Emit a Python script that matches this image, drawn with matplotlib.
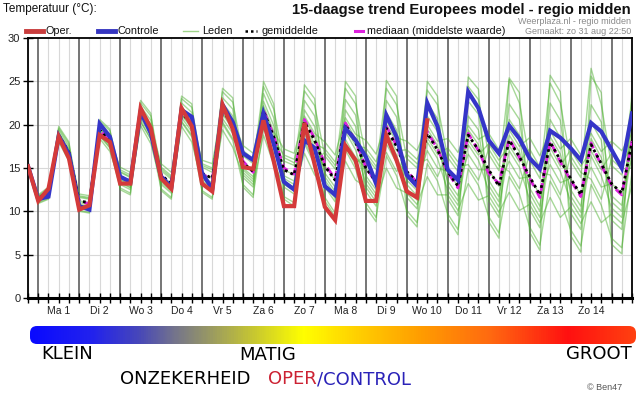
import matplotlib
matplotlib.use('Agg')
import matplotlib.pyplot as plt
from matplotlib.colors import LinearSegmentedColormap
from matplotlib.patches import FancyBboxPatch
from matplotlib.lines import Line2D
import numpy as np

# ---------------- data (6-hourly steps, start zo 31 aug 18:00) ----------------
day_labels = ["Ma 1", "Di 2", "Wo 3", "Do 4", "Vr 5", "Za 6", "Zo 7",
              "Ma 8", "Di 9", "Wo 10", "Do 11", "Vr 12", "Za 13", "Zo 14"]

oper = [15.2, 11.2, 12.6, 18.6, 16.1, 10.2, 10.7, 18.8, 18.0, 13.2,
        13.2, 21.9, 19.6, 13.8, 12.6, 21.9, 19.8, 13.2, 12.3, 22.3,
        19.5, 15.1, 14.9, 20.5, 15.8, 10.6, 10.6, 20.2, 15.4, 10.5,
        9.0, 17.6, 15.9, 11.2, 11.2, 18.8, 15.9, 12.3, 11.6, 20.5]

controle = [15.2, 11.4, 11.7, 18.7, 16.6, 10.6, 10.2, 20.1, 18.6, 14.0,
            13.4, 21.5, 19.0, 14.0, 12.8, 21.7, 20.9, 14.4, 12.6, 22.3,
            20.3, 16.7, 15.9, 21.3, 17.8, 13.4, 12.5, 18.2, 17.3, 12.9,
            11.9, 19.6, 18.2, 16.3, 13.2, 21.1, 18.6, 14.2, 12.9, 22.5,
            19.8, 14.8, 13.6, 23.8, 21.9, 18.2, 16.7, 19.9, 18.4, 16.1,
            14.9, 19.3, 18.5, 17.3, 15.9, 20.2, 19.2, 17.1, 15.0, 21.3]

gemiddelde = [15.2, 11.5, 12.2, 18.8, 16.8, 11.2, 11.0, 19.4, 18.1, 14.0,
              13.4, 21.2, 19.4, 14.2, 13.2, 21.4, 20.0, 14.4, 13.8, 21.6,
              20.0, 15.6, 14.6, 21.6, 18.6, 14.8, 14.2, 20.3, 18.2, 15.2,
              13.6, 20.0, 18.0, 15.0, 13.4, 19.6, 17.5, 14.6, 13.4, 19.0,
              17.1, 14.6, 12.9, 18.8, 17.1, 14.8, 12.9, 18.2, 16.3, 14.0,
              11.9, 18.0, 15.9, 13.8, 11.9, 17.7, 15.5, 13.2, 12.1, 18.0]

mediaan = [15.2, 11.4, 12.2, 18.8, 16.8, 11.1, 10.9, 19.4, 18.1, 14.0,
           13.4, 21.3, 19.5, 14.1, 13.1, 21.5, 20.1, 14.3, 13.7, 21.8,
           20.1, 15.8, 14.5, 21.7, 18.7, 15.0, 14.3, 20.6, 18.4, 15.5,
           13.7, 20.2, 18.1, 15.1, 13.3, 19.8, 17.6, 14.7, 13.3, 19.2,
           17.2, 14.5, 12.7, 19.0, 17.0, 14.4, 13.2, 18.4, 16.2, 13.8,
           11.6, 18.1, 15.7, 13.6, 11.7, 17.9, 15.3, 13.0, 11.9, 18.1]

lid_01 = [15.5, 11.7, 12.4, 19.6, 17.8, 11.6, 11.4, 20.4, 19.3, 14.5,
          13.9, 22.5, 21.0, 14.7, 13.7, 23.0, 22.0, 15.1, 14.5, 23.8,
          22.6, 16.4, 15.5, 24.4, 21.8, 15.8, 15.3, 23.9, 22.2, 16.4,
          14.9, 24.2, 22.4, 16.4, 14.8, 24.2, 22.3, 16.1, 15.0, 24.0,
          22.3, 16.2, 14.6, 24.4, 22.9, 16.6, 14.7, 25.2, 22.5, 15.9,
          13.8, 24.8, 22.5, 15.8, 13.9, 26.5, 22.3, 15.3, 14.2, 23.0]
lid_02 = [15.4, 11.3, 12.0, 19.4, 17.5, 10.8, 10.6, 20.1, 18.9, 13.6,
          13.0, 22.1, 20.5, 13.7, 12.7, 22.5, 21.4, 13.7, 13.1, 23.1,
          21.8, 14.8, 13.7, 23.6, 20.8, 13.8, 13.1, 22.8, 21.0, 14.0,
          12.3, 22.9, 21.1, 13.7, 12.0, 22.8, 20.9, 13.1, 11.8, 22.5,
          20.7, 13.0, 11.2, 22.7, 21.2, 13.0, 11.1, 22.4, 20.6, 12.1,
          10.0, 22.5, 20.5, 11.8, 9.9, 22.3, 20.3, 11.1, 10.0, 21.5]
lid_03 = [15.2, 11.8, 12.6, 18.7, 16.7, 11.8, 11.6, 19.3, 18.0, 14.8,
          14.2, 21.1, 19.2, 15.1, 14.1, 21.2, 19.8, 15.5, 15.0, 21.4,
          19.7, 17.0, 16.1, 21.3, 18.3, 16.5, 16.0, 19.9, 17.8, 17.2,
          15.7, 19.6, 17.6, 17.3, 15.7, 19.1, 17.0, 17.1, 16.0, 18.5,
          16.6, 17.3, 15.7, 18.2, 16.5, 17.8, 15.9, 17.6, 15.7, 17.2,
          15.1, 17.4, 15.2, 17.1, 15.2, 17.0, 14.8, 16.7, 15.6, 17.5]
lid_04 = [15.3, 11.1, 11.7, 19.1, 17.2, 10.5, 10.3, 19.8, 18.6, 13.1,
          12.5, 21.7, 20.0, 13.1, 12.1, 22.0, 20.8, 13.1, 12.4, 22.5,
          21.0, 13.9, 12.8, 22.7, 19.9, 12.8, 12.0, 21.7, 19.8, 12.8,
          11.1, 21.7, 19.8, 12.3, 10.6, 21.4, 19.4, 11.6, 10.3, 21.0,
          19.2, 11.4, 9.5, 21.0, 19.4, 11.2, 9.3, 20.6, 18.8, 10.2,
          8.1, 20.6, 18.5, 9.8, 7.9, 20.3, 18.2, 9.0, 7.9, 20.0]
lid_05 = [15.0, 11.7, 12.5, 18.3, 16.2, 11.7, 11.5, 18.8, 17.4, 14.6,
          14.0, 20.4, 18.4, 14.9, 13.9, 20.4, 18.8, 15.3, 14.8, 20.3,
          18.4, 16.7, 15.8, 19.9, 16.7, 16.2, 15.6, 18.1, 15.8, 16.8,
          15.3, 17.5, 15.4, 16.8, 15.2, 16.8, 14.6, 16.6, 15.5, 16.0,
          14.0, 16.8, 15.1, 15.4, 13.6, 17.2, 15.3, 14.6, 12.6, 16.6,
          14.5, 14.2, 11.9, 16.4, 14.5, 13.7, 11.4, 16.0, 14.9, 15.0]
lid_06 = [15.1, 11.3, 11.9, 18.6, 16.6, 10.7, 10.5, 19.2, 17.9, 13.4,
          12.8, 20.9, 19.1, 13.5, 12.5, 21.1, 19.6, 13.5, 12.8, 21.2,
          19.5, 14.5, 13.4, 21.0, 18.0, 13.4, 12.8, 19.6, 17.4, 13.6,
          11.9, 19.2, 17.1, 13.2, 11.6, 18.7, 16.5, 12.6, 11.3, 18.0,
          16.1, 12.4, 10.7, 17.7, 15.9, 12.4, 10.5, 17.0, 15.1, 11.4,
          9.3, 16.7, 14.6, 11.2, 9.3, 16.4, 14.1, 10.4, 9.3, 17.0]
lid_07 = [15.0, 11.0, 11.5, 18.2, 16.1, 10.1, 9.9, 18.7, 17.3, 12.7,
          12.1, 20.3, 18.3, 12.6, 11.6, 20.3, 18.6, 12.4, 11.6, 20.1,
          18.2, 13.1, 11.9, 19.6, 16.4, 11.7, 11.0, 17.8, 15.4, 11.6,
          9.8, 17.1, 14.9, 11.0, 9.3, 16.4, 14.1, 10.1, 8.7, 15.5,
          13.5, 9.7, 7.9, 14.9, 13.0, 9.4, 7.5, 14.0, 12.0, 8.2,
          6.1, 13.5, 11.3, 7.9, 6.0, 13.1, 10.7, 6.9, 5.8, 14.5]
lid_08 = [15.3, 11.9, 12.8, 19.0, 17.0, 12.0, 11.8, 19.6, 18.3, 15.1,
          14.5, 21.5, 19.7, 15.5, 14.5, 21.7, 20.4, 15.9, 15.5, 22.0,
          20.5, 17.6, 16.7, 22.2, 19.2, 17.2, 16.7, 21.0, 19.0, 18.0,
          16.5, 20.8, 18.9, 18.2, 16.6, 20.5, 18.5, 18.1, 17.0, 20.0,
          18.1, 18.4, 16.8, 19.9, 18.3, 19.0, 17.1, 19.4, 17.5, 18.5,
          16.4, 19.3, 17.2, 18.4, 16.5, 19.0, 16.9, 18.1, 17.0, 19.0]
lid_09 = [15.1, 11.5, 12.2, 18.5, 16.4, 11.2, 11.0, 19.0, 17.6, 14.0,
          13.4, 20.7, 18.8, 14.2, 13.2, 20.8, 19.2, 14.4, 13.8, 20.7,
          19.0, 15.6, 14.6, 20.5, 17.3, 14.8, 14.2, 18.9, 16.6, 15.2,
          13.6, 18.3, 16.2, 15.0, 13.4, 17.8, 15.6, 14.6, 13.4, 17.0,
          15.0, 14.6, 12.9, 16.6, 14.8, 14.8, 12.9, 15.8, 13.8, 14.0,
          11.9, 15.4, 13.3, 13.8, 11.9, 15.1, 12.8, 13.2, 12.1, 16.0]
lid_10 = [15.6, 10.9, 11.4, 19.8, 18.0, 10.0, 9.8, 20.6, 19.5, 12.5,
          11.9, 22.8, 21.3, 12.4, 11.4, 23.3, 22.4, 12.2, 11.4, 24.2,
          23.1, 12.8, 11.6, 25.0, 22.4, 11.4, 10.6, 24.6, 23.0, 11.2,
          9.4, 25.0, 23.3, 10.5, 8.8, 25.1, 23.3, 9.6, 8.2, 25.0,
          23.3, 9.2, 7.3, 25.5, 24.1, 8.8, 6.9, 25.4, 23.7, 7.6,
          5.5, 25.7, 23.8, 7.2, 5.3, 25.6, 23.7, 6.2, 5.1, 24.0]
lid_11 = [14.9, 11.2, 11.8, 18.0, 15.8, 10.6, 10.4, 18.4, 16.9, 13.3,
          12.7, 19.9, 17.8, 13.3, 12.3, 19.8, 18.0, 13.3, 12.6, 19.4,
          17.4, 14.2, 13.1, 18.8, 15.4, 13.1, 12.4, 16.7, 14.2, 13.2,
          11.5, 15.8, 13.6, 12.8, 11.1, 15.0, 12.7, 12.1, 10.8, 14.0,
          11.9, 11.9, 10.1, 13.2, 11.3, 11.8, 9.9, 12.2, 10.1, 10.8,
          8.7, 11.6, 9.3, 10.5, 8.6, 11.1, 8.7, 9.7, 8.6, 13.0]
lid_12 = [15.2, 11.4, 12.0, 18.9, 16.9, 11.0, 10.8, 19.5, 18.2, 13.7,
          13.1, 21.3, 19.6, 13.8, 12.8, 21.6, 20.2, 14.0, 13.3, 21.8,
          20.3, 15.0, 14.0, 21.9, 18.9, 14.1, 13.5, 20.7, 18.6, 14.4,
          12.8, 20.4, 18.4, 14.1, 12.5, 20.1, 18.0, 13.6, 12.4, 19.5,
          17.6, 13.5, 11.8, 19.4, 17.7, 13.6, 11.7, 18.8, 16.9, 12.7,
          10.6, 18.6, 16.6, 12.5, 10.6, 18.4, 16.2, 11.8, 10.7, 18.5]
leden = [lid_01, lid_02, lid_03, lid_04, lid_05, lid_06,
         lid_07, lid_08, lid_09, lid_10, lid_11, lid_12]

scale_labels = ["KLEIN", "MATIG", "GROOT"]

# ---------------- figure ----------------
W, H = 642, 398
fig = plt.figure(figsize=(W / 100, H / 100), dpi=100)
fig.patch.set_facecolor('white')


def fx(px):
    return px / W


def fy(py):
    return 1 - py / H


ax = fig.add_axes([fx(28), fy(298), (632 - 28) / W, (298 - 38) / H])
n_steps = len(gemiddelde)
ax.set_xlim(0, n_steps - 1)
ax.set_ylim(0, 30)

# grid
for t in range(n_steps):
    if (t - 1) % 4 == 0:
        ax.axvline(t, color='#505050', lw=1.1, zorder=1)
    else:
        ax.axvline(t, color='#d8d8d8', lw=0.8, zorder=0.5)
for yv in range(5, 30, 5):
    ax.axhline(yv, color='#d8d8d8', lw=0.8, zorder=0.5)

# members
for lid in leden:
    ax.plot(range(len(lid)), lid, color='#4fb232', lw=1.0, alpha=0.5, zorder=2)

ax.plot(range(len(mediaan)), mediaan, color='#dd22dd', lw=2.0,
        dashes=(3, 2), zorder=3)
ax.plot(range(len(gemiddelde)), gemiddelde, color='black', lw=2.0,
        dashes=(1, 1.2), zorder=4)
ax.plot(range(len(controle)), controle, color='#3535c8', lw=3.0, zorder=5,
        solid_joinstyle='miter')
ax.plot(range(len(oper)), oper, color='#d43a3a', lw=3.0, zorder=6,
        solid_joinstyle='miter')

# axes styling
for side in ['left', 'right', 'top']:
    ax.spines[side].set_linewidth(1.3)
    ax.spines[side].set_color('black')
ax.spines['bottom'].set_linewidth(2.2)
ax.spines['bottom'].set_color('black')

xticklabels = [''] * n_steps
for i, name in enumerate(day_labels):
    xticklabels[3 + 4 * i] = name
ax.set_xticks(range(n_steps))
ax.set_xticklabels(xticklabels, fontsize=7.5, family='Liberation Sans',
                   color='#222222')
ax.set_yticks(range(0, 31, 5))
ax.set_yticklabels([str(v) for v in range(0, 31, 5)], fontsize=8,
                   family='Liberation Sans', color='#222222')
ax.tick_params(axis='x', direction='inout', length=7, width=1, pad=2)
ax.tick_params(axis='y', direction='inout', length=7, width=1, pad=2)

# ---------------- header texts ----------------
fig.text(fx(3), fy(9), "Temperatuur (°C):", fontsize=8.5, family='Liberation Sans',
         va='center', ha='left', color='#111111')
fig.text(fx(631), fy(10), "15-daagse trend Europees model - regio midden",
         fontsize=10.6, fontweight='bold', family='Liberation Sans',
         va='center', ha='right', color='#111111')
fig.text(fx(631), fy(21), "Weerplaza.nl - regio midden", fontsize=6.5,
         family='Liberation Sans', va='center', ha='right', color='#8a8a8a')
fig.text(fx(631), fy(31), "Gemaakt: zo 31 aug 22:50", fontsize=6.5,
         family='Liberation Sans', va='center', ha='right', color='#8a8a8a')

# legend row
ly = fy(31)
fig.add_artist(Line2D([fx(26), fx(43)], [ly, ly], transform=fig.transFigure,
                      color='#c83c3c', lw=3.5))
fig.text(fx(46), ly, "Oper.", fontsize=7.8, family='Liberation Sans',
         va='center', ha='left', color='#111111')
fig.add_artist(Line2D([fx(98), fx(115)], [ly, ly], transform=fig.transFigure,
                      color='#3535c0', lw=3.5))
fig.text(fx(118), ly, "Controle", fontsize=7.8, family='Liberation Sans',
         va='center', ha='left', color='#111111')
fig.add_artist(Line2D([fx(183), fx(198)], [ly, ly], transform=fig.transFigure,
                      color='#9fd48a', lw=1.0))
fig.text(fx(202), ly, "Leden", fontsize=7.8, family='Liberation Sans',
         va='center', ha='left', color='#111111')
fig.add_artist(Line2D([fx(245), fx(257)], [ly, ly], transform=fig.transFigure,
                      color='black', lw=1.8, dashes=(1, 1.2)))
fig.text(fx(261), ly, "gemiddelde", fontsize=7.8, family='Liberation Sans',
         va='center', ha='left', color='#111111')
fig.add_artist(Line2D([fx(355), fx(363)], [ly, ly], transform=fig.transFigure,
                      color='#dd22dd', lw=2.2))
fig.text(fx(367), ly, "mediaan (middelste waarde)", fontsize=7.8,
         family='Liberation Sans', va='center', ha='left', color='#111111')

# ---------------- uncertainty colour bar ----------------
bw, bh = 606, 18
cax = fig.add_axes([fx(30), fy(344), bw / W, bh / H])
cax.axis('off')
stops = [(0.0, '#0a0aff'), (0.10, '#2222ee'), (0.18, '#4848b8'),
         (0.24, '#76768a'), (0.30, '#9c9c60'), (0.37, '#c8c830'),
         (0.45, '#ffff00'), (0.54, '#ffd000'), (0.64, '#ff9f00'),
         (0.76, '#ff6a10'), (0.89, '#ff1010'), (1.0, '#ff4010')]
cmap = LinearSegmentedColormap.from_list('onzekerheid', stops)
grad = np.linspace(0, 1, 600).reshape(1, -1)
im = cax.imshow(grad, aspect='auto', cmap=cmap, extent=[0, bw, 0, bh])
cax.set_xlim(0, bw)
cax.set_ylim(0, bh)
box = FancyBboxPatch((0, 0), bw, bh, boxstyle='round,pad=0,rounding_size=7',
                     transform=cax.transData, facecolor='none', edgecolor='none')
cax.add_patch(box)
im.set_clip_path(box)

fig.text(fx(41), fy(354), scale_labels[0], fontsize=13, family='DejaVu Sans',
         va='center', ha='left', color='black')
fig.text(fx(267.5), fy(355), scale_labels[1], fontsize=13, family='DejaVu Sans',
         va='center', ha='center', color='black')
fig.text(fx(632), fy(354), scale_labels[2], fontsize=13, family='DejaVu Sans',
         va='center', ha='right', color='black')

fig.text(fx(120), fy(379), "ONZEKERHEID", fontsize=13, family='DejaVu Sans',
         va='center', ha='left', color='black')
t_oper = fig.text(fx(268), fy(379), "OPER", fontsize=13, family='DejaVu Sans',
                  va='center', ha='left', color='#cc2233')
fig.canvas.draw()
bb = t_oper.get_window_extent(renderer=fig.canvas.get_renderer())
fig.text(bb.x1 / W, fy(379), "/CONTROL", fontsize=13, family='DejaVu Sans',
         va='center', ha='left', color='#2a22b8')
fig.text(fx(622), fy(388), "© Ben47", fontsize=6.5, family='Liberation Sans',
         va='center', ha='right', color='#555555')

fig.savefig('out.png', dpi=100, facecolor='white')
